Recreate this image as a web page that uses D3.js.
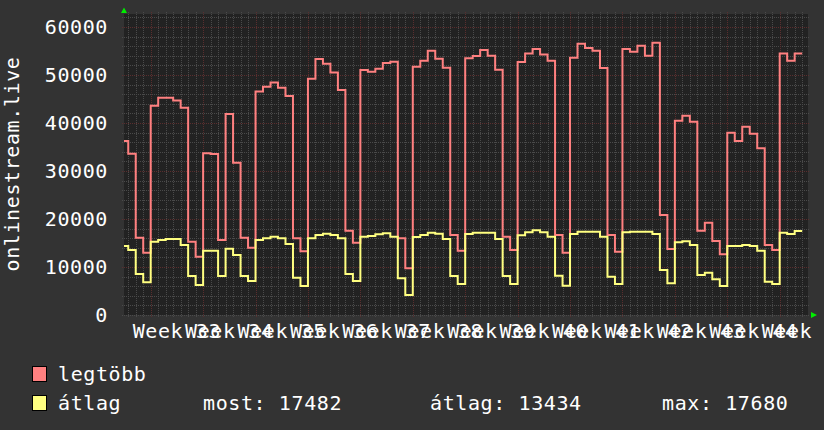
<!DOCTYPE html>
<html><head><meta charset="utf-8">
<script src="https://cdn.jsdelivr.net/npm/d3@7"></script>
<style>
html,body{margin:0;padding:0;background:#333333;}
svg{display:block;}
text{font-family:"DejaVu Sans Mono",monospace;fill:#ffffff;}
</style>
</head><body>
<svg id="chart" width="824" height="430"></svg>
<script>
// ---- data (one value per day, first day = firstDay) ----
const seriesNames = ["legtöbb", "átlag"];
const seriesColors = ["#ff8080", "#ffff80"];
const firstDay = "2023-08-10";
const legtobb = [
  36250, 33610, 16110, 12990, 43610, 45280, 45280, 44700, 43200, 15280,
  12150, 33680, 33540, 15625, 41875, 31740, 16110, 14030, 46550, 47570,
  48440, 47360, 45650, 15970, 13260, 49200, 53330, 52360, 50520, 46900,
  17570, 15070, 51040, 50690, 51320, 52500, 52750, 15970, 9720, 51700,
  52950, 55070, 53360, 51530, 16670, 13400, 53500, 53960, 55210, 54000,
  51100, 16320, 13540, 52710, 54500, 55400, 54270, 52950, 16670, 12990,
  53610, 56500, 55600, 55070, 51450, 16670, 13190, 55420, 54860, 56110,
  54030, 56740, 20830, 13750, 40490, 41530, 40280, 17570, 19240, 15400,
  12680, 37990, 36250, 39240, 37780, 34720, 14580, 13540, 54480, 52950,
  54480
];
const atlag = [
  14375, 13540, 8540, 6800, 15280, 15625, 15830, 15830, 14580, 8125,
  6250, 13400, 13400, 8125, 13820, 12500, 8125, 7080, 15625, 15970,
  16320, 15970, 14790, 7780, 6040, 15970, 16670, 16940, 16670, 15970,
  8540, 7080, 16320, 16460, 16800, 17010, 16320, 7640, 4170, 16250,
  16670, 17150, 16940, 15830, 8125, 6460, 16875, 17150, 17150, 17150,
  15830, 8125, 6460, 16600, 17220, 17680, 17220, 16320, 8190, 6110,
  16875, 17360, 17360, 17360, 16320, 7990, 6460, 17220, 17360, 17360,
  17360, 16875, 9375, 6600, 15140, 15350, 14580, 8330, 8820, 7430,
  6040, 14375, 14375, 14580, 14375, 13400, 6940, 6460, 17150, 16875,
  17482
];
const yTicks = [0, 10000, 20000, 30000, 40000, 50000, 60000];
const weekLabels = ["Week 33","Week 34","Week 35","Week 36","Week 37","Week 38","Week 39",
                    "Week 40","Week 41","Week 42","Week 43","Week 44","Week 45"];
const statLabels = ["most: 17482", "átlag: 13434", "max: 17680"];
const yTitle = "onlinestream.live";

// ---- layout ----
const X0 = 124, X1 = 808, Y0 = 315, Y1 = 14;
const DAY = 864e5;
const t0 = d3.utcParse("%Y-%m-%d")(firstDay);
const x = d3.scaleUtc()
  .domain([new Date(+t0 + 0.434 * DAY), new Date(+t0 + 91.78 * DAY)])
  .range([X0, X1]);
const y = d3.scaleLinear().domain([0, 62708]).range([Y0, Y1]);

const svg = d3.select("#chart");
svg.append("rect").attr("width", 824).attr("height", 430).attr("fill", "#333333");
svg.append("rect").attr("x", X0).attr("y", Y1).attr("width", X1 - X0).attr("height", Y0 - Y1)
  .attr("fill", "#222222");

const px = v => Math.round(v) + 0.5;
const grid = svg.append("g").attr("shape-rendering", "crispEdges");
const minorColor = "#4a4a4a", majorColor = "#5a2e2e";

// minor horizontal (every 2000)
const minorY = d3.range(0, y.domain()[1], 2000).filter(v => v % 10000 !== 0);
grid.selectAll(".mh").data(minorY).join("line")
  .attr("x1", X0 - 2).attr("x2", X1 + 2)
  .attr("y1", d => px(y(d))).attr("y2", d => px(y(d)))
  .attr("stroke", minorColor).attr("stroke-dasharray", "1,1");
// minor vertical (days)
const days = d3.utcDay.range(x.domain()[0], x.domain()[1]);
const mondays = d3.utcMonday.range(x.domain()[0], x.domain()[1]);
grid.selectAll(".mv").data(days.filter(d => d.getUTCDay() !== 1)).join("line")
  .attr("x1", d => px(x(d))).attr("x2", d => px(x(d)))
  .attr("y1", Y1 - 2).attr("y2", Y0 + 2)
  .attr("stroke", minorColor).attr("stroke-dasharray", "1,1");
// major horizontal
grid.selectAll(".Mh").data(yTicks).join("line")
  .attr("x1", X0 - 2).attr("x2", X1 + 2)
  .attr("y1", d => px(y(d))).attr("y2", d => px(y(d)))
  .attr("stroke", d => d === 0 ? minorColor : majorColor).attr("stroke-dasharray", "1,1");
// major vertical (weeks)
grid.selectAll(".Mv").data(mondays).join("line")
  .attr("x1", d => px(x(d))).attr("x2", d => px(x(d)))
  .attr("y1", Y1 - 2).attr("y2", Y0 + 2)
  .attr("stroke", majorColor).attr("stroke-dasharray", "1,1");

// ---- series ----
svg.append("clipPath").attr("id", "clip").append("rect")
  .attr("x", X0).attr("y", Y1 - 2).attr("width", X1 - X0).attr("height", Y0 - Y1 + 4);

function pts(vals) {
  const p = vals.map((v, i) => [d3.utcDay.offset(t0, i), v]);
  p.push([d3.utcDay.offset(t0, vals.length), vals[vals.length - 1]]);
  return p;
}
const line = d3.line().x(d => x(d[0])).y(d => y(d[1])).curve(d3.curveStepAfter);
[legtobb, atlag].forEach((s, k) => {
  svg.append("path").attr("clip-path", "url(#clip)")
    .attr("d", line(pts(s))).attr("fill", "none")
    .attr("stroke", seriesColors[k]).attr("stroke-width", 2)
    .attr("stroke-linejoin", "miter");
});

// ---- arrows ----
svg.append("path").attr("d", "M121,13 L124,7.5 L127,13 Z").attr("fill", "#00ee00");
svg.append("path").attr("d", "M811,312 L817,315 L811,318 Z").attr("fill", "#00ee00");

// ---- axis labels ----
const fs = 20, ls = 0.6;
svg.selectAll(".yl").data(yTicks).join("text")
  .attr("x", 108).attr("y", d => y(d) + 7.3)
  .attr("text-anchor", "end").attr("font-size", fs).attr("letter-spacing", ls)
  .text(d => d);

svg.selectAll(".xl").data(mondays.slice(0, weekLabels.length)).join("text")
  .attr("x", d => x(new Date(+d + 3.5 * DAY)))
  .attr("y", 338)
  .attr("text-anchor", "middle").attr("font-size", fs).attr("letter-spacing", ls)
  .text((d, i) => weekLabels[i]);

svg.append("text")
  .attr("transform", "translate(19,164) rotate(-90)")
  .attr("text-anchor", "middle").attr("font-size", fs).attr("letter-spacing", ls)
  .text(yTitle);

// ---- legend ----
const legY = [366, 395];
seriesNames.forEach((n, k) => {
  svg.append("rect").attr("x", 32.5).attr("y", legY[k] + 0.5).attr("width", 14).attr("height", 15)
    .attr("fill", seriesColors[k]).attr("stroke", "#000").attr("stroke-width", 1);
  svg.append("text").attr("x", 58).attr("y", legY[k] + 15)
    .attr("font-size", fs).attr("letter-spacing", ls).text(n);
});
const statX = [203, 430, 662];
statLabels.forEach((s, i) => {
  svg.append("text").attr("x", statX[i]).attr("y", legY[1] + 15)
    .attr("font-size", fs).attr("letter-spacing", ls).text(s);
});
</script>
</body></html>
